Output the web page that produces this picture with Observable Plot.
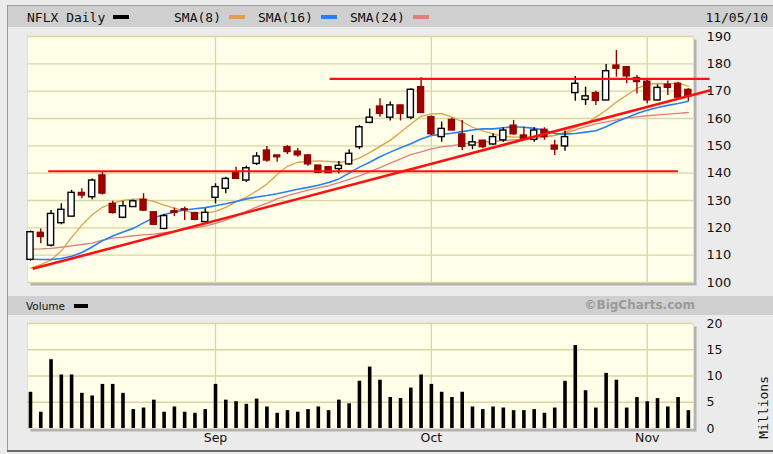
<!DOCTYPE html>
<html><head><meta charset="utf-8">
<script src="https://cdn.jsdelivr.net/npm/d3@7"></script>
<script src="https://cdn.jsdelivr.net/npm/@observablehq/plot@0.6"></script>
<style>
html,body{margin:0;padding:0;background:#ebebeb;}
#wrap{position:relative;width:773px;height:454px;overflow:hidden;background:#ebebeb;}
.ln{position:absolute;background:#9c9c9c;}
.bar{position:absolute;background:#cfcfcf;}
.t{position:absolute;font-family:"DejaVu Sans Mono",monospace;font-size:13px;color:#111;white-space:nowrap;line-height:13px;}
.sw{position:absolute;height:4px;width:16px;}
.chart{position:absolute;left:0;}
</style></head><body>
<div id="wrap">
  <div class="ln" style="left:7px;top:5px;width:766px;height:1px;"></div>
  <div class="ln" style="left:7px;top:5px;width:1px;height:446px;"></div>
  <div class="ln" style="left:7px;top:450px;width:766px;height:2px;background:#6a6a6a;"></div>
  <div class="bar" style="left:8px;top:6px;width:765px;height:21px;"></div>
  <div class="bar" style="left:8px;top:296px;width:765px;height:19px;"></div>
  <div id="legend"></div>
  <div id="price" class="chart" style="top:0px;"></div>
  <div id="volume" class="chart" style="top:290px;"></div>
</div>
<script>
// ---- data ----
const dates = [
"2010-08-06","2010-08-09","2010-08-10","2010-08-11","2010-08-12","2010-08-13",
"2010-08-16","2010-08-17","2010-08-18","2010-08-19","2010-08-20",
"2010-08-23","2010-08-24","2010-08-25","2010-08-26","2010-08-27","2010-08-30","2010-08-31",
"2010-09-01","2010-09-02","2010-09-03","2010-09-07","2010-09-08","2010-09-09","2010-09-10",
"2010-09-13","2010-09-14","2010-09-15","2010-09-16","2010-09-17",
"2010-09-20","2010-09-21","2010-09-22","2010-09-23","2010-09-24",
"2010-09-27","2010-09-28","2010-09-29","2010-09-30",
"2010-10-01","2010-10-04","2010-10-05","2010-10-06","2010-10-07","2010-10-08",
"2010-10-11","2010-10-12","2010-10-13","2010-10-14","2010-10-15",
"2010-10-18","2010-10-19","2010-10-20","2010-10-21","2010-10-22",
"2010-10-25","2010-10-26","2010-10-27","2010-10-28","2010-10-29",
"2010-11-01","2010-11-02","2010-11-03","2010-11-04","2010-11-05"];
const open = [108.3,118.2,113.5,121.7,124.1,132.8,131.2,139.2,128.8,123.7,127.6,130.3,125.7,119.6,126.1,126.8,125.4,122.1,
131.0,134.3,140.0,137.3,143.4,148.3,146.5,149.5,147.9,146.5,142.8,142.2,141.5,143.2,149.5,158.4,164.4,160.3,164.8,160.3,171.5,
160.5,153.2,159.5,154.2,150.1,151.9,150.5,152.0,157.4,153.8,152.2,155.9,150.1,149.8,169.3,166.8,169.3,166.6,179.4,178.8,174.8,
173.5,166.6,172.4,172.7,170.5];
const high = [118.8,119.6,126.3,128.8,133.7,134.3,137.9,140.6,129.7,129.7,130.2,132.5,126.0,124.9,127.2,127.6,125.7,127.0,
136.1,138.5,142.2,142.6,147.5,149.8,146.5,150.1,149.0,146.8,142.8,142.4,144.3,148.6,157.4,163.5,167.2,166.0,164.8,170.9,174.9,
160.9,158.7,160.1,159.3,153.8,152.0,154.4,156.6,159.3,156.8,156.6,156.6,152.0,155.4,175.4,171.5,170.0,179.8,184.9,178.8,175.7,
174.2,172.3,173.7,173.3,170.9];
const low = [107.8,114.2,113.0,121.1,123.9,130.6,130.3,132.0,125.1,123.3,127.4,126.0,120.9,119.3,124.1,122.7,122.6,121.5,
128.8,132.5,137.7,136.6,142.8,144.0,144.0,146.8,145.8,142.5,139.8,139.8,139.8,142.8,148.6,158.1,160.5,159.1,159.1,159.5,161.8,
153.8,151.3,155.4,148.3,148.6,148.9,150.1,151.3,153.8,152.0,151.3,152.0,146.5,148.0,166.3,164.8,164.8,166.6,175.1,172.7,169.0,
165.4,166.4,168.4,166.6,166.3];
const close = [118.4,116.6,125.1,126.6,132.8,131.8,137.3,132.5,125.4,127.9,129.7,126.3,121.1,124.3,125.4,126.4,122.9,125.5,
134.9,137.9,137.9,141.8,146.1,144.6,145.8,147.7,146.5,143.2,140.1,140.0,142.7,147.1,156.8,160.3,161.7,164.8,161.7,170.5,162.0,
154.2,156.2,155.6,149.6,151.3,149.5,153.2,155.6,154.2,152.6,155.6,153.2,148.6,153.2,172.7,168.1,166.4,177.3,178.2,175.4,173.3,
166.6,171.2,171.2,167.6,168.1];
const volume = [6.9,3.1,13.1,10.2,10.2,6.7,6.2,8.4,8.4,6.7,3.6,3.9,5.4,3.1,4.1,3.1,2.9,3.6,
8.4,5.4,5.1,4.6,5.6,4.1,2.9,3.4,3.1,3.6,4.1,3.4,5.4,4.7,9.0,11.7,9.2,5.9,5.7,7.7,10.2,
8.4,6.9,5.9,6.9,4.1,3.6,4.1,3.9,3.4,3.4,3.6,2.9,3.9,9.0,15.8,7.2,3.9,10.5,9.2,3.9,5.9,
5.1,5.7,4.1,5.9,3.4];
const sma8 = [105.3,106.5,108.3,111.5,116.5,121.0,124.8,127.5,129.0,130.0,130.5,130.5,129.7,128.3,127.2,126.2,125.5,125.4,
126.0,127.5,129.5,131.2,133.5,136.0,139.5,142.5,144.0,144.3,144.5,144.3,144.0,144.3,145.5,147.5,149.8,152.0,155.0,158.0,160.8,
161.7,161.8,160.5,158.8,156.8,155.5,154.4,153.5,153.2,153.2,153.2,153.3,153.8,155.0,156.8,158.0,160.5,163.0,166.0,168.5,171.0,
172.5,172.8,172.7,173.0,171.8];
const sma16 = [108.5,108.4,108.4,108.8,109.6,111.0,113.0,115.3,117.0,118.5,119.8,121.8,123.7,124.9,125.8,126.5,127.0,127.4,
128.1,128.8,129.6,130.6,131.3,131.8,132.5,133.3,134.1,134.8,135.6,136.6,137.9,140.0,142.2,144.0,146.0,147.7,149.3,150.8,152.5,
153.8,154.2,154.6,155.2,155.8,156.2,156.2,156.6,157.0,156.8,156.4,155.8,154.5,154.3,154.5,155.0,155.5,157.0,158.8,160.3,161.8,
163.0,164.0,164.8,165.5,166.3];
const sma24 = [112.2,112.3,112.5,112.9,113.4,113.9,114.4,115.5,116.2,116.6,117.1,117.4,117.7,118.2,118.7,119.4,120.0,120.6,
121.6,122.8,124.3,126.0,127.6,129.0,130.6,131.8,132.8,133.8,134.6,135.4,136.5,137.7,139.0,140.5,142.0,143.7,145.2,146.8,147.8,
148.9,149.6,150.1,150.6,151.1,151.4,151.6,151.9,152.2,152.4,152.7,153.2,153.8,154.6,155.8,157.0,158.0,158.8,159.5,160.2,160.6,
161.0,161.3,161.6,161.9,162.2];
const priceTicks = [100,110,120,130,140,150,160,170,180,190];
const volumeTicks = [0,5,10,15,20];
const monthNames = {"08":"Aug","09":"Sep","10":"Oct","11":"Nov"};
// drawn trend lines (position in trading-day index, price)
const trendIndex1 = [0.2, 29.1, 1.72];
const trendIndex2 = [66.15, 66.05, 63.0];
const trendPrice1 = [105.0, 174.5, 140.7];
const trendPrice2 = [170.3, 174.5, 140.7];
const trendWidth = [2.6, 2.2, 2.2];
const legendItems = [
  {label:"NFLX Daily", color:"#000000"},
  {label:"SMA(8)", color:"#dca14a"},
  {label:"SMA(16)", color:"#2a7ff0"},
  {label:"SMA(24)", color:"#de7f7f"}
];

// ---- build ----
const rows = dates.map((d, i) => ({i, date: d, open: open[i], high: high[i], low: low[i], close: close[i],
  volume: volume[i], sma8: sma8[i], sma16: sma16[i], sma24: sma24[i]}));
const up = rows.filter(d => d.close >= d.open);
const down = rows.filter(d => d.close < d.open);
const monthIdx = rows.filter((d, i) => i > 0 && d.date.slice(5,7) !== rows[i-1].date.slice(5,7)).map(d => d.i);
const trends = trendIndex1.map((v, k) => ({i1: v, i2: trendIndex2[k], p1: trendPrice1[k], p2: trendPrice2[k], w: trendWidth[k]}));

const grid = "#d8d6a2";
const bg = "#ffffe9";
const xdom = [-0.29, 64.5];

const price = Plot.plot({
  width: 773, height: 290,
  marginLeft: 27, marginRight: 80, marginTop: 36, marginBottom: 8,
  style: {background: "transparent", fontFamily: "DejaVu Sans", fontSize: "13px", color: "#111", overflow: "visible"},
  x: {type: "linear", domain: xdom, axis: null},
  y: {domain: [100, 190], axis: "right", ticks: priceTicks, tickSize: 0, tickPadding: 13, label: null},
  marks: [
    Plot.frame({fill: "#b2b2b2", insetLeft: 3, insetTop: 3, insetRight: -3, insetBottom: -3}),
    Plot.frame({fill: bg, stroke: "#e2e2cc"}),
    Plot.ruleY(priceTicks, {stroke: grid, strokeWidth: 1.3}),
    Plot.ruleX(monthIdx, {stroke: grid, strokeWidth: 1.3}),
    Plot.line(rows, {x: "i", y: "sma24", stroke: legendItems[3].color, strokeWidth: 1.3}),
    Plot.line(rows, {x: "i", y: "sma8", stroke: legendItems[1].color, strokeWidth: 1.3}),
    Plot.line(rows, {x: "i", y: "sma16", stroke: legendItems[2].color, strokeWidth: 1.6}),
    Plot.ruleX(up, {x: "i", y1: "low", y2: "high", stroke: "#000", strokeWidth: 1.4}),
    Plot.ruleX(down, {x: "i", y1: "low", y2: "high", stroke: "#8e0000", strokeWidth: 1.4}),
    Plot.rect(up, {x1: d => d.i - 0.3, x2: d => d.i + 0.3, y1: "open", y2: "close", fill: "#ffffff", stroke: "#000", strokeWidth: 1.4}),
    Plot.rect(down, {x1: d => d.i - 0.3, x2: d => d.i + 0.3, y1: "open", y2: "close", fill: "#a00000", stroke: "#8e0000", strokeWidth: 1.2}),
    Plot.link(trends, {x1: "i1", x2: "i2", y1: "p1", y2: "p2", stroke: "#ff1010", strokeWidth: d => d.w})
  ]
});
document.getElementById("price").appendChild(price);

const vol = Plot.plot({
  width: 773, height: 164,
  marginLeft: 27, marginRight: 80, marginTop: 33, marginBottom: 26,
  style: {background: "transparent", fontFamily: "DejaVu Sans", fontSize: "12.5px", color: "#111", overflow: "visible"},
  x: {type: "linear", domain: xdom, ticks: monthIdx, tickFormat: i => monthNames[rows[i].date.slice(5,7)], tickSize: 0, tickPadding: 5, label: null},
  y: {domain: [0, 20], axis: "right", ticks: volumeTicks, tickSize: 0, tickPadding: 13, label: null},
  marks: [
    Plot.frame({fill: "#b2b2b2", insetLeft: 3, insetTop: 3, insetRight: -3, insetBottom: -3}),
    Plot.frame({fill: bg, stroke: "#e2e2cc"}),
    Plot.ruleY(volumeTicks.slice(1), {stroke: grid, strokeWidth: 1.3}),
    Plot.ruleX(monthIdx, {stroke: grid, strokeWidth: 1.3}),
    Plot.ruleX(rows, {x: "i", y1: 0, y2: "volume", stroke: "#000", strokeWidth: 3.6}),
    Plot.text(["Millions"], {frameAnchor: "right", dx: 70, rotate: -90, fontFamily: "DejaVu Sans Mono", fontSize: 13, fill: "#111"})
  ]
});
document.getElementById("volume").appendChild(vol);

// ---- legend / header texts ----
const L = document.getElementById("legend");
function addText(txt, left, top, extra) {
  const s = document.createElement("div");
  s.className = "t"; s.textContent = txt;
  s.style.left = left + "px"; s.style.top = top + "px";
  if (extra) Object.assign(s.style, extra);
  L.appendChild(s); return s;
}
function addSwatch(color, left, top, w) {
  const s = document.createElement("div");
  s.className = "sw"; s.style.background = color;
  s.style.left = left + "px"; s.style.top = top + "px";
  if (w) s.style.width = w + "px";
  L.appendChild(s);
}
const legendX = [27, 174, 258, 350];
legendItems.forEach((d, k) => {
  const el = addText(d.label, legendX[k], 11);
  const w = el.getBoundingClientRect().width;
  addSwatch(d.color, legendX[k] + w + 8, 15);
});
const dt = addText("11/05/10", 0, 11);
dt.style.left = (768 - dt.getBoundingClientRect().width) + "px";
const vl = addText("Volume", 26, 300, {fontFamily: "DejaVu Sans", fontSize: "10.5px", lineHeight: "12px"});
addSwatch("#000", 26 + vl.getBoundingClientRect().width + 9, 304, 14);
const bc = addText("\u00a9BigCharts.com", 0, 299, {fontFamily: "DejaVu Sans", fontWeight: "bold", fontSize: "12px", color: "#9a9a9a"});
bc.style.left = (695 - bc.getBoundingClientRect().width) + "px";
</script>
</body></html>
